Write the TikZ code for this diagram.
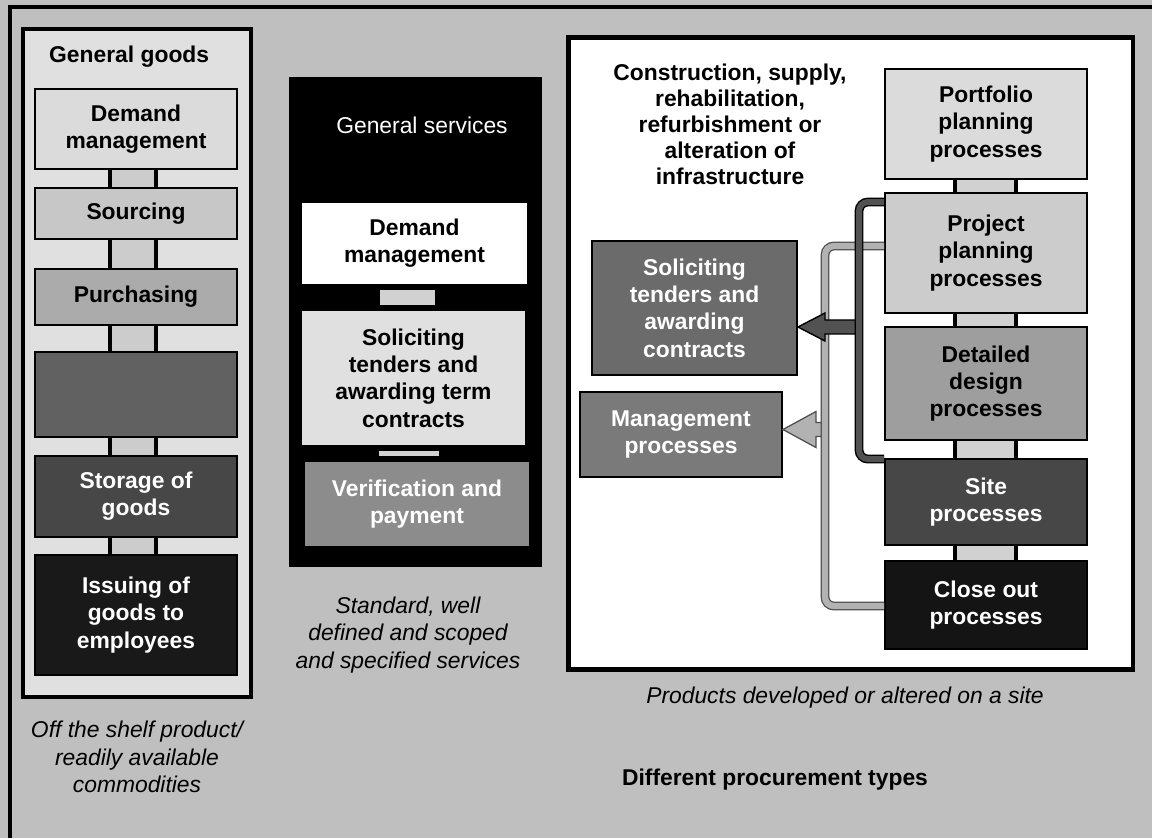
\documentclass[tikz,border=0pt]{standalone}
\usepackage{fontspec}
\setmainfont{Liberation Sans}
\usepackage{tikz}

\begin{document}
\begin{tikzpicture}[x=0.02cm, y=-0.02cm,
    box/.style={draw=black, line width=1.1pt, align=center, inner sep=0pt,
        font=\fontsize{13}{15.5}\selectfont\bfseries},
    lightbox/.style={box, text=black},
    darkbox/.style={box, text=white},
    caption/.style={align=center, font=\fontsize{13}{15.5}\selectfont\itshape},
    darkbar/.style={draw=black, line width=0.8pt, double=black!68, double distance=3.4pt, rounded corners=5pt},
    lightbar/.style={draw=black!70, line width=0.7pt, double=black!30, double distance=3.6pt, rounded corners=5pt},
]
    \useasboundingbox (0,0) rectangle (1152,838);

    % Background and frame
    \fill[black!25] (0,0) rectangle (1152,838);
    \draw[line width=1.8pt] (10,838) -- (10,7) -- (1152,7);

    % Column frames
    \node[draw, line width=2pt, fill=black!12, minimum width=4.56cm, minimum height=13.36cm] (goods) at (137,363) {};
    \node[draw, line width=1pt, fill=black, minimum width=5.02cm, minimum height=9.76cm] (services) at (415.5,322) {};
    \node[draw, line width=2.8pt, fill=white, minimum width=11.3cm, minimum height=12.66cm] (infra) at (850.5,353.5) {};

    % General goods
    \node[anchor=west, font=\fontsize{13}{15.5}\selectfont\bfseries] (goodstitle) at (43,57) {General goods};
    \node[lightbox, fill=black!14, minimum width=4.04cm, minimum height=1.6cm] (gDemand) at (136,129) {Demand\\management};
    \node[lightbox, fill=black!22, minimum width=4.04cm, minimum height=1.02cm] (gSourcing) at (136,213.5) {Sourcing};
    \node[lightbox, fill=black!33, minimum width=4.04cm, minimum height=1.12cm] (gPurch) at (136,297) {Purchasing};
    \node[darkbox, fill=black!62, minimum width=4.04cm, minimum height=1.7cm] (gBlank) at (136,394.5) {};
    \node[darkbox, fill=black!72, minimum width=4.04cm, minimum height=1.62cm] (gStorage) at (136,496.5) {Storage of\\goods};
    \node[darkbox, fill=black!90, minimum width=4.04cm, minimum height=2.4cm] (gIssue) at (136,615) {Issuing of\\goods to\\employees};
    \foreach \a/\b in {gDemand/gSourcing, gSourcing/gPurch, gPurch/gBlank, gBlank/gStorage, gStorage/gIssue} {
        \fill[black!20] ([xshift=-0.52cm]\a.south) rectangle ([xshift=0.4cm]\b.north);
        \draw[line width=2pt] ([xshift=-0.52cm]\a.south) -- ([xshift=-0.52cm]\b.north)
                              ([xshift=0.4cm]\a.south) -- ([xshift=0.4cm]\b.north);
    }
    \node[caption] (goodsnote) at (137,757) {Off the shelf product/\\readily available\\commodities};

    % General services
    \node[text=white, font=\fontsize{13}{15.5}\selectfont] (servtitle) at (422,125) {General services};
    \node[lightbox, draw=none, fill=white, minimum width=4.5cm, minimum height=1.62cm] (sDemand) at (414.5,243.5) {Demand\\management};
    \node[lightbox, draw=none, fill=black!12, minimum width=4.46cm, minimum height=2.68cm] (sSolicit) at (413.5,378) {Soliciting\\tenders and\\awarding term\\contracts};
    \node[darkbox, draw=none, fill=black!45, minimum width=4.48cm, minimum height=1.68cm] (sVerify) at (417,504) {Verification and\\payment};
    \foreach \a/\b in {sDemand/sSolicit, sSolicit/sVerify}
        \fill[black!18] ([xshift=-0.69cm, yshift=-3pt]\a.south) rectangle ([xshift=0.43cm, yshift=3pt]\b.north);
    \node[caption] (servicesnote) at (408,635) {Standard, well\\defined and scoped\\and specified services};

    % Infrastructure
    \node[align=center, font=\fontsize{13}{14.8}\selectfont\bfseries] (infratitle) at (730,124)
        {Construction, supply,\\rehabilitation,\\refurbishment or\\alteration of\\infrastructure};
    \node[lightbox, fill=black!14, minimum width=4.04cm, minimum height=2.2cm] (pPortfolio) at (986,124) {Portfolio\\planning\\processes};
    \node[lightbox, fill=black!20, minimum width=4.04cm, minimum height=2.4cm] (pProject) at (986,253) {Project\\planning\\processes};
    \node[lightbox, fill=black!38, minimum width=4.04cm, minimum height=2.26cm] (pDesign) at (986,383.5) {Detailed\\design\\processes};
    \node[darkbox, fill=black!72, minimum width=4.04cm, minimum height=1.72cm] (pSite) at (986,502) {Site\\processes};
    \node[darkbox, fill=black!92, minimum width=4.04cm, minimum height=1.76cm] (pClose) at (986,605) {Close out\\processes};
    \foreach \a/\b in {pPortfolio/pProject, pProject/pDesign, pDesign/pSite, pSite/pClose} {
        \fill[black!18] ([xshift=-0.62cm]\a.south) rectangle ([xshift=0.6cm]\b.north);
        \draw[line width=2pt] ([xshift=-0.62cm]\a.south) -- ([xshift=-0.62cm]\b.north)
                              ([xshift=0.6cm]\a.south) -- ([xshift=0.6cm]\b.north);
    }
    \node[darkbox, fill=black!58, minimum width=4.1cm, minimum height=2.68cm] (rSolicit) at (694.5,308) {Soliciting\\tenders and\\awarding\\contracts};
    \node[darkbox, fill=black!52, minimum width=4.04cm, minimum height=1.7cm] (rManage) at (681,434.5) {Management\\processes};

    % Brackets and arrows
    \draw[draw=black!70, line width=0.7pt, fill=black!30] ([yshift=0.1cm]rManage.east) -- ++(33,-18) -- ++(0,11) -- ++(10,0)
        -- ++(0,14) -- ++(-10,0) -- ++(0,11) -- cycle;
    \draw[lightbar] ([yshift=-1.08cm]pProject.north west) -- ++(-59,0) |- ([yshift=-0.92cm]pClose.north west);
    \draw[draw=black, line width=0.8pt, fill=black!68] ([yshift=-0.38cm]rSolicit.east) -- ++(27,-14) -- ++(0,7) -- ++(36,0)
        -- ++(0,14) -- ++(-36,0) -- ++(0,7) -- cycle;
    \draw[darkbar] ([yshift=-0.2cm]pProject.north west) -- ++(-25,0) |- ([yshift=-0.02cm]pSite.north west);

    \node[caption] (infranote) at (845,698) {Products developed or altered on a site};
    \node[font=\fontsize{13}{15.5}\selectfont\bfseries] (typestitle) at (775,780) {Different procurement types};
\end{tikzpicture}
\end{document}
